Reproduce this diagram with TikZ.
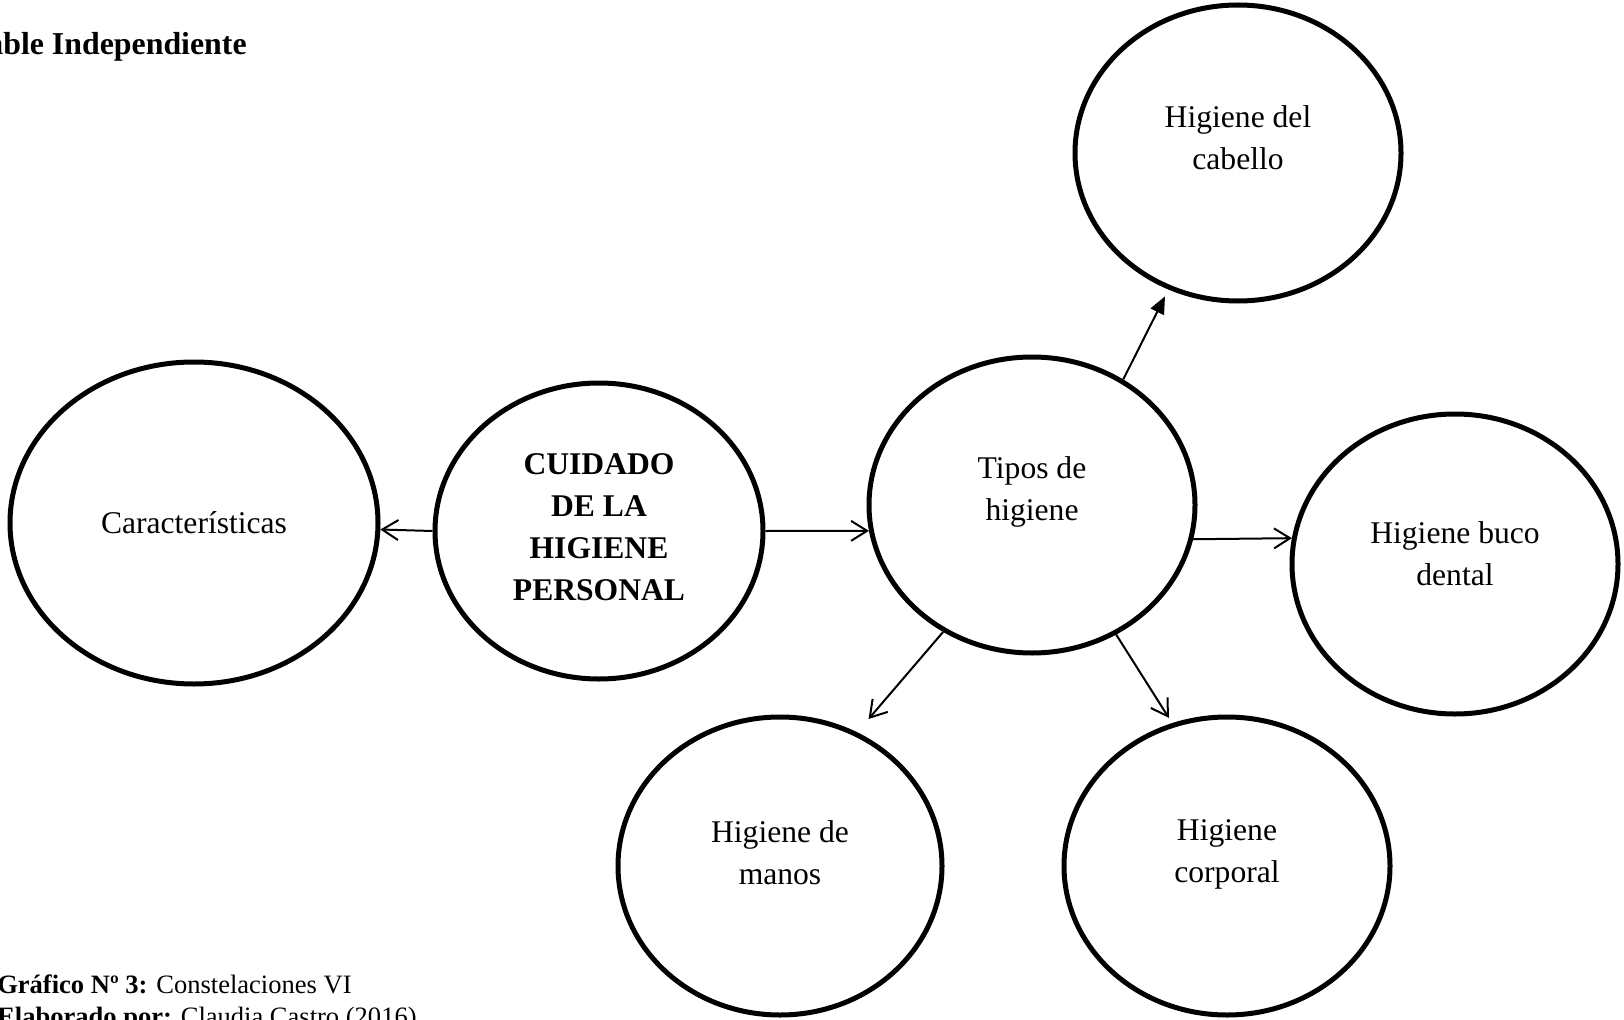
\documentclass[tikz,border=0pt]{standalone}
\usepackage{fontspec}
\setmainfont{Liberation Serif}
\usetikzlibrary{arrows.meta,shapes.geometric}
\begin{document}
\begin{tikzpicture}[x=0.75pt,y=-0.75pt,
  bub/.style={draw, ellipse, line width=3.75pt, inner sep=0pt},
  lbl/.style={align=center, inner sep=0pt, font=\fontsize{23.7}{31.5}\selectfont},
  lblb/.style={align=center, inner sep=0pt, font=\fontsize{23.7}{31.5}\selectfont\bfseries},
  conn/.style={line width=1.5pt, -{Straight Barb[length=12pt,width=15pt]}},
  connf/.style={line width=1.5pt, -{Triangle[length=13pt,width=11pt]}},
  ]
\useasboundingbox (0,0) rectangle (1624,1020);
% bubbles
\node[bub, minimum width=276pt, minimum height=241.5pt] (car) at (194,523) {};
\node[bub, minimum width=246pt, minimum height=222pt] (cui) at (599,531) {};
\node[bub, minimum width=244.5pt, minimum height=222pt] (tipos) at (1032,505) {};
\node[bub, minimum width=244.5pt, minimum height=222pt] (cab) at (1238,153) {};
\node[bub, minimum width=244.5pt, minimum height=225pt] (buco) at (1455,564) {};
\node[bub, minimum width=243pt, minimum height=223.5pt] (manos) at (780,866) {};
\node[bub, minimum width=244.5pt, minimum height=223.5pt] (corp) at (1227,866) {};
% texts
\node[lbl] (tcar) at (194,523) {Características};
\node[lblb] (tcui) at (599,527) {CUIDADO\\DE LA\\HIGIENE\\PERSONAL};
\node[lbl] (ttipos) at (1032,492) {Tipos de\\higiene};
\node[lbl] (tcab) at (1238,138) {Higiene del\\cabello};
\node[lbl] (tbuco) at (1455,554) {Higiene buco\\dental};
\node[lbl] (tmanos) at (780,853) {Higiene de\\manos};
\node[lbl] (tcorp) at (1227,854) {Higiene\\corporal};
% connectors
\draw[conn] (cui.180) -- (car.-2.5);
\draw[conn] (cui.0) -- (tipos.189);
\draw[connf, shorten >=5.7pt] (tipos.54.7) -- (cab.243.4);
\draw[conn] (tipos.-12.3) -- (buco.171.6);
\draw[conn, shorten >=13.1pt] (tipos.235) -- (manos.60.7);
\draw[conn, shorten >=4.7pt] (tipos.303.4) -- (corp.111.9);
% title and caption
\node[anchor=base east, inner sep=0pt, font=\fontsize{23.9}{30}\selectfont\bfseries] (title) at (247,55) {Variable Independiente};
\node[anchor=base west, inner sep=0pt, font=\fontsize{19.9}{24}\selectfont] (cap1) at (-3,993) {\textbf{Gráfico Nº 3:} Constelaciones VI};
\node[anchor=base west, inner sep=0pt, font=\fontsize{19.9}{24}\selectfont] (cap2) at (-3,1025) {\textbf{Elaborado por:} Claudia Castro (2016)};
\end{tikzpicture}
\end{document}
